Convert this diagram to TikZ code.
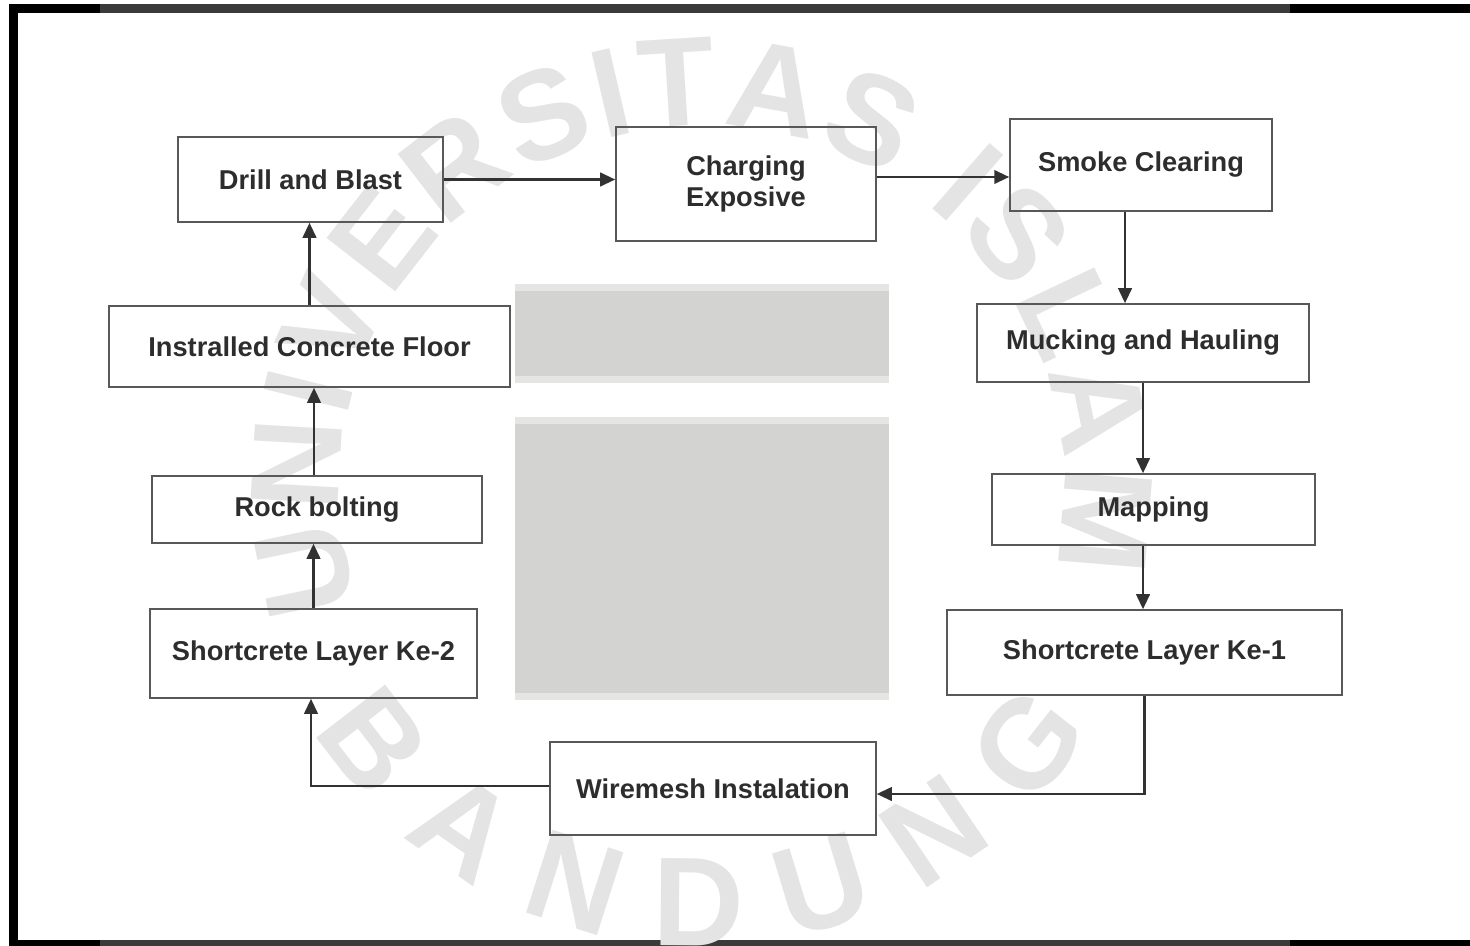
\documentclass[tikz,border=0pt]{standalone}
\usepackage{fontspec}
\setmainfont{Liberation Sans}
\newfontfamily\wmfont{Liberation Sans}
\usepackage{tikz}
\usetikzlibrary{positioning,arrows.meta,decorations.text}
\definecolor{boxline}{RGB}{88,88,88}
\definecolor{arrowline}{RGB}{50,50,50}
\definecolor{labeltext}{RGB}{45,45,45}
\definecolor{watermark}{RGB}{228,228,228}
\definecolor{shadeout}{RGB}{229,229,227}
\definecolor{shadein}{RGB}{211,211,209}
\definecolor{framegray}{RGB}{58,58,58}

\begin{document}
\begin{tikzpicture}[x=0.02cm, y=-0.02cm,
  box/.style={rectangle, draw=boxline, line width=0.9pt, inner sep=0pt,
              align=center, text=labeltext,
              font=\fontsize{15.5}{17.6}\selectfont\bfseries},
  arr/.style={-{Triangle[length=0.3cm,width=0.27cm]}, line width=1.4pt, draw=arrowline},
  wm/.style={decorate, decoration={text along path, text color=watermark,
             text align={fit to path}}}
]
  \useasboundingbox (0,0) rectangle (1470,946);

  % frame
  \fill[black] (9,4) rectangle (1470,13);
  \fill[framegray] (100,4) rectangle (1290,13);
  \fill[black] (9,4) rectangle (18,946);
  \fill[black] (9,940) rectangle (1470,946);
  \fill[framegray] (100,940) rectangle (1290,946);

  % watermark
  \begin{scope}[x=1cm, y=1cm, shift={(14.04,-9.76)}]
    \path[wm, decoration={text={|\wmfont\bfseries\fontsize{72}{72}\selectfont|UNIVERSITAS ISLAM}}]
      (199:7.24) arc[start angle=199, end angle=-13, radius=7.24];
    \path[wm, decoration={text={|\wmfont\bfseries\fontsize{72}{72}\selectfont|BANDUNG}}]
      (212:9.16) arc[start angle=212, end angle=328, radius=9.16];
  \end{scope}
  \fill[shadeout] (515,284) rectangle (889,383);
  \fill[shadein]  (515,291) rectangle (889,376);
  \fill[shadeout] (515,417) rectangle (889,700);
  \fill[shadein]  (515,424) rectangle (889,693);

  \node[box, minimum width=5.30cm, minimum height=1.70cm] (drill)  at (310.5,179.5) {Drill and Blast};
  \node[box, minimum width=5.20cm, minimum height=2.28cm] (charge) at (746,184)     {Charging\\Exposive};
  \node[box, minimum width=5.24cm, minimum height=1.84cm] (smoke)  at (1141,165)    {Smoke Clearing};
  \node[box, minimum width=6.64cm, minimum height=1.56cm] (muck)   at (1143,343)    {Mucking and Hauling};
  \node[box, minimum width=6.46cm, minimum height=1.42cm] (map)    at (1153.5,509.5){Mapping};
  \node[box, minimum width=7.90cm, minimum height=1.70cm] (layer1) at (1144.5,652.5){Shortcrete Layer Ke-1};
  \node[box, minimum width=6.52cm, minimum height=1.86cm] (wire)   at (713,788.5)   {Wiremesh Instalation};
  \node[box, minimum width=6.54cm, minimum height=1.78cm] (layer2) at (313.5,653.5) {Shortcrete Layer Ke-2};
  \node[box, minimum width=6.60cm, minimum height=1.34cm] (bolt)   at (317,509.5)   {Rock bolting};
  \node[box, minimum width=8.02cm, minimum height=1.62cm] (floor)  at (309.5,346.5) {Instralled Concrete Floor};

  \draw[arr] (drill.east) -- (drill.east -| charge.west);
  \draw[arr] ([yshift=0.14cm]charge.east) -- ([yshift=0.14cm]charge.east -| smoke.west);
  \draw[arr] ([xshift=-0.32cm]smoke.south) -- ([xshift=-0.32cm]smoke.south |- muck.north);
  \draw[arr] (muck.south) -- (muck.south |- map.north);
  \draw[arr] ([xshift=-0.21cm]map.south) -- ([xshift=-0.21cm]map.south |- layer1.north);
  \draw[arr] (layer1.south) |- ([yshift=-0.11cm]wire.east);
  \draw[arr] ([yshift=0.05cm]wire.west) -| ([xshift=-0.05cm]layer2.south);
  \draw[arr] (layer2.north) -- (layer2.north |- bolt.south);
  \draw[arr] ([xshift=-0.06cm]bolt.north) -- ([xshift=-0.06cm]bolt.north |- floor.south);
  \draw[arr] (floor.north) -- (floor.north |- drill.south);
\end{tikzpicture}
\end{document}
